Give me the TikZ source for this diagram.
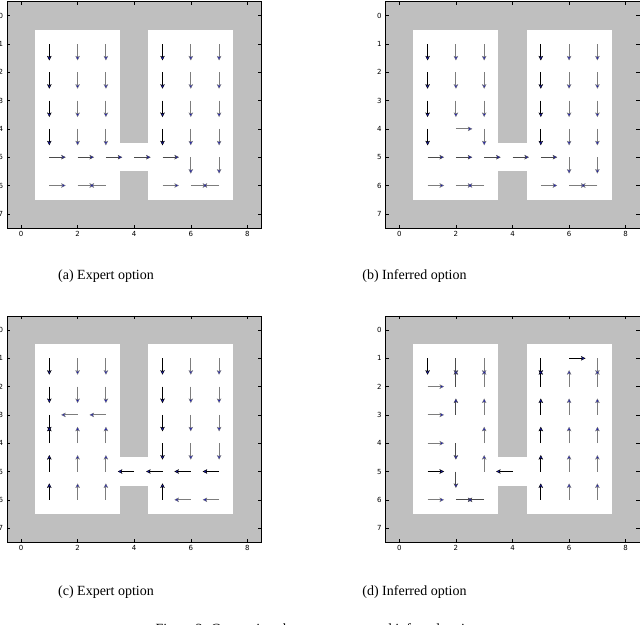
\documentclass[tikz,border=0pt]{standalone}
\usepackage{fontspec}
\setmainfont{Liberation Serif}
\newfontfamily\tickfont{DejaVu Sans}
\usetikzlibrary{arrows.meta}
\definecolor{wallgray}{RGB}{191,191,191}
\definecolor{qblue}{RGB}{25,25,175}
\definecolor{sg}{RGB}{125,125,125}
\definecolor{sd}{RGB}{75,75,75}
\definecolor{sk}{RGB}{0,0,0}
\tikzset{
  axisframe/.style={draw=black, line width=0.6pt},
  tickmark/.style={draw=black, line width=0.5pt},
  xlab/.style={anchor=north, inner sep=0pt, yshift=-3pt, font=\tickfont\fontsize{7}{8}\selectfont},
  ylab/.style={anchor=east, inner sep=0pt, xshift=-3.5pt, font=\tickfont\fontsize{7}{8}\selectfont},
  captext/.style={anchor=base, inner sep=0pt, font=\fontsize{14}{16}\selectfont},
  qv/.style={line width=1.1pt, -{Stealth[length=4.5pt,width=4.5pt,inset=1pt,fill=qblue,line width=0.4pt]}}
}
\newcommand\gridworldpanel{%
  \fill[wallgray] (-0.5,-0.5) rectangle (8.5,7.5);
  \fill[white] (0.5,0.5) rectangle (3.5,6.5);
  \fill[white] (4.5,0.5) rectangle (7.5,6.5);
  \fill[white] (3.45,4.5) rectangle (4.55,5.5);
  \draw[axisframe] (-0.5,-0.5) rectangle (8.5,7.5);
  \foreach \t in {0,2,4,6,8}{
    \draw[tickmark] (\t,7.5) -- (\t,7.38);
    \draw[tickmark] (\t,-0.5) -- (\t,-0.38);
    \node[xlab] at (\t,7.5) {\t};
  }
  \foreach \t in {0,...,7}{
    \draw[tickmark] (-0.5,\t) -- (-0.38,\t);
    \draw[tickmark] (8.5,\t) -- (8.38,\t);
    \node[ylab] at (-0.5,\t) {\t};
  }
}
\newcommand\qlist[1]{%
  \foreach \qx/\qy/\dx/\dy/\c in {#1}{\draw[qv, draw=\c] (\qx,\qy) -- ++(\dx,\dy);}
}
\newcommand\abcommon{%
  \foreach \rr in {1,2,3}{\qlist{1/\rr/0/.58/sk,2/\rr/0/.58/sg,3/\rr/0/.58/sg,5/\rr/0/.58/sk,6/\rr/0/.58/sg,7/\rr/0/.58/sg}}
  \qlist{1/4/0/.58/sk,3/4/0/.58/sg,5/4/0/.58/sk,6/4/0/.58/sg,7/4/0/.58/sg}
  \qlist{1/5/.58/0/sd,2/5/.58/0/sd,3/5/.58/0/sd,4/5/.58/0/sd,5/5/.58/0/sd,6/5/0/.58/sg,7/5/0/.58/sg}
  \qlist{1/6/.58/0/sg,2/6/.58/0/sg,3/6/-.58/0/sg,5/6/.58/0/sg,6/6/.58/0/sg,7/6/-.58/0/sg}
}
\begin{document}
\begin{tikzpicture}[x=1pt,y=-1pt]
\useasboundingbox (0,0) rectangle (640,624);
\fill[white] (0,0) rectangle (640,624);
% (a)
\begin{scope}[shift={(21,15.7)},x=28.3pt,y=-28.3pt]
  \gridworldpanel
  \abcommon
  \qlist{2/4/0/.58/sg}
\end{scope}
% (b)
\begin{scope}[shift={(399.3,15.7)},x=28.3pt,y=-28.3pt]
  \gridworldpanel
  \abcommon
  \qlist{2/4/.58/0/sg}
\end{scope}
% (c)
\begin{scope}[shift={(21,330)},x=28.3pt,y=-28.3pt]
  \gridworldpanel
  \foreach \rr in {1,2}{\qlist{1/\rr/0/.58/sk,2/\rr/0/.58/sg,3/\rr/0/.58/sg,5/\rr/0/.58/sk,6/\rr/0/.58/sg,7/\rr/0/.58/sg}}
  \qlist{1/3/0/.58/sk,2/3/-.58/0/sg,3/3/-.58/0/sg,5/3/0/.58/sk,6/3/0/.58/sg,7/3/0/.58/sg}
  \qlist{1/4/0/-.58/sk,2/4/0/-.58/sg,3/4/0/-.58/sg,5/4/0/.58/sk,6/4/0/.58/sg,7/4/0/.58/sg}
  \qlist{1/5/0/-.58/sk,2/5/0/-.58/sg,3/5/0/-.58/sg,4/5/-.58/0/sk,5/5/-.58/0/sk,6/5/-.58/0/sk,7/5/-.58/0/sk}
  \qlist{1/6/0/-.58/sk,2/6/0/-.58/sg,3/6/0/-.58/sg,5/6/0/-.58/sk,6/6/-.58/0/sg,7/6/-.58/0/sg}
\end{scope}
% (d)
\begin{scope}[shift={(399.3,330)},x=28.3pt,y=-28.3pt]
  \gridworldpanel
  \qlist{1/1/0/.58/sk,2/1/0/.58/sd,3/1/0/.58/sg,5/1/0/.58/sk,6/1/.58/0/sk,7/1/0/.58/sg}
  \qlist{1/2/.58/0/sg,2/2/0/-.58/sd,3/2/0/-.58/sg,5/2/0/-.58/sk,6/2/0/-.58/sg,7/2/0/-.58/sg}
  \qlist{1/3/.58/0/sg,2/3/0/-.58/sd,3/3/0/-.58/sg,5/3/0/-.58/sk,6/3/0/-.58/sg,7/3/0/-.58/sg}
  \qlist{1/4/.58/0/sg,2/4/0/.58/sd,3/4/0/-.58/sg,5/4/0/-.58/sk,6/4/0/-.58/sg,7/4/0/-.58/sg}
  \qlist{1/5/.58/0/sk,2/5/0/.58/sd,3/5/0/-.58/sg,4/5/-.58/0/sk,5/5/0/-.58/sk,6/5/0/-.58/sg,7/5/0/-.58/sg}
  \qlist{1/6/.58/0/sg,2/6/.58/0/sd,3/6/-.58/0/sd,5/6/0/-.58/sk,6/6/0/-.58/sg,7/6/0/-.58/sg}
\end{scope}
% captions
\node[captext] (capa) at (106,279) {(a) Expert option};
\node[captext] (capb) at (414.5,279) {(b) Inferred option};
\node[captext] (capc) at (106,595) {(c) Expert option};
\node[captext] (capd) at (414.5,595) {(d) Inferred option};
\node[captext] (capfig) at (320,633) {Figure 3: Comparison between expert and inferred options};
\end{tikzpicture}
\end{document}
